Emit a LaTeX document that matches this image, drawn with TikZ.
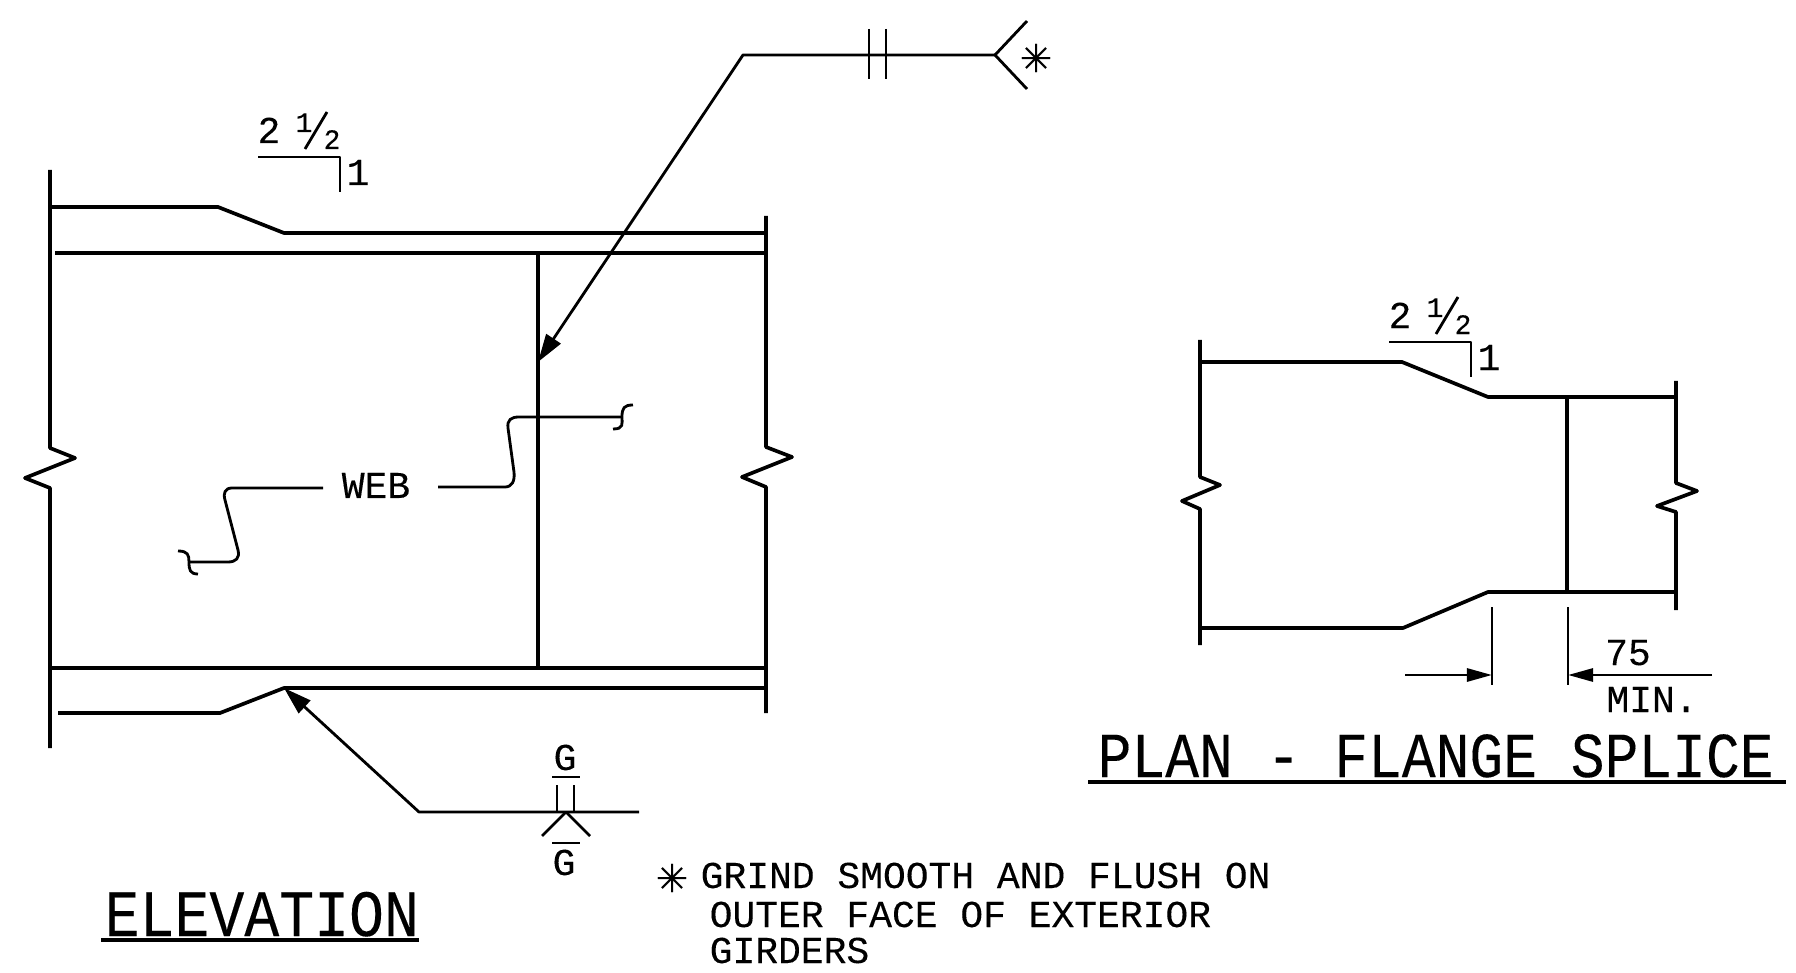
\documentclass[tikz,border=0pt]{standalone}
\usepackage{fontspec}
\newfontfamily\cadfont{Liberation Mono}[FakeBold=0.15]
\newfontfamily\cadtall{Liberation Mono}[FakeStretch=0.88,FakeBold=0.15]
\newfontfamily\starfont{DejaVu Sans}[FakeBold=0.3]
\usepackage{tikz}
\usetikzlibrary{arrows.meta}
\tikzset{
	heavyline/.style={line width=1.05pt,line join=round},
	thinline/.style={line width=0.8pt,line join=round},
	weldtip/.style={-{Triangle[length=0.28cm,width=0.17cm]}},
	dimtip/.style={-{Triangle[length=0.25cm,width=0.13cm]}},
	cadtext/.style={font=\cadfont\fontsize{10.8}{13}\selectfont,anchor=base,inner sep=0pt},
	smalltext/.style={font=\cadfont\fontsize{8}{10}\selectfont,anchor=base,inner sep=0pt},
	titletext/.style={font=\cadtall\fontsize{18.8}{22}\selectfont,anchor=base west,inner sep=0pt},
	startext/.style={font=\starfont\fontsize{11}{13}\selectfont,inner sep=0pt}
}
\begin{document}
\begin{tikzpicture}[x=0.01cm,y=-0.01cm]
	\useasboundingbox (0,0) rectangle (1796,973);
	
	% elevation: end lines with break marks
	\draw[heavyline] (50,170) -- (50,448) -- (75,458) -- (25,478) -- (50,488) -- (50,748);
	\draw[heavyline] (766,216) -- (766,447) -- (792,457) -- (742,477) -- (766,487) -- (766,713);
	
	% flanges and stiffener
	\draw[heavyline] (50,207) -- (218,207) -- (284,233) -- (766,233);
	\draw[heavyline] (55,253) -- (766,253);
	\draw[heavyline] (50,668) -- (766,668);
	\draw[heavyline] (58,713) -- (220,713) -- (284,688) -- (766,688);
	\draw[heavyline] (538,253) -- (538,668);
	
	% slope marks, same on both views
	\foreach \sx/\sy/\m in {0/0/a,1131/185/b} {
		\begin{scope}[shift={(\sx,\sy)}]
			\node[cadtext] (slopetwo\m) at (269,143) {2};
			\node[smalltext] (fracone\m) at (304,132) {1};
			\node[smalltext] (fractwo\m) at (332,149) {2};
			\node[cadtext] (slopeone\m) at (358,185) {1};
			\draw[thinline] (305,149) -- (327,112);
			\draw[thinline] (258,157) -- (340,157) -- (340,192);
		\end{scope}
	}
	
	% top weld symbol
	\coordinate (topweld) at (538,362);
	\coordinate (topelbow) at (743,55);
	\coordinate (toptail) at (995,55);
	\draw[thinline,weldtip] (toptail) -- (topelbow) -- (topweld);
	\draw[thinline] (869,29) -- (869,79);
	\draw[thinline] (886,29) -- (886,79);
	\draw[thinline] (1027,21) -- (toptail) -- (1027,89);
	\node[startext] (topstar) at (1036,58) {✳};
	
	% web label and its two leaders
	\node[cadtext] (web) at (376,498) {WEB};
	\coordinate (webleft) at (323,488);
	\coordinate (webright) at (438,487);
	\draw[thinline] (webright) -- (505,487) .. controls (512,487) and (515,481) .. (514,472)
		-- (508,428) .. controls (507,420) and (511,417) .. (519,417) -- (622,417);
	\draw[thinline] (613,429) .. controls (624,429) and (622,424) .. (622,417)
		.. controls (622,408) and (624,405) .. (633,405);
	\draw[thinline] (webleft) -- (232,488) .. controls (225,488) and (223,493) .. (225,500)
		-- (238,550) .. controls (240,558) and (236,562) .. (228,562) -- (189,562);
	\draw[thinline] (178,551) .. controls (188,551) and (189,555) .. (189,562)
		.. controls (189,570) and (190,574) .. (198,574);
	
	% bottom weld symbol
	\coordinate (botweld) at (284,688);
	\coordinate (botelbow) at (419,812);
	\coordinate (bottail) at (639,812);
	\coordinate (botapex) at (566,812);
	\draw[thinline,weldtip] (bottail) -- (botelbow) -- (botweld);
	\draw[thinline] (557,785) -- (557,812);
	\draw[thinline] (574,785) -- (574,812);
	\draw[thinline] (552,777) -- (580,777);
	\draw[thinline] (542,836) -- (botapex) -- (590,836);
	\draw[thinline] (552,843) -- (580,843);
	\node[cadtext] (gtop) at (565,770) {G};
	\node[cadtext] (gbot) at (564,875) {G};
	
	% titles
	\node[titletext] (elevation) at (104,936) {ELEVATION};
	\draw[heavyline] (101,940) -- (419,940);
	\node[titletext,font=\cadtall\fontsize{18.2}{22}\selectfont] (plantitle) at (1097,777) {PLAN - FLANGE SPLICE};
	\draw[heavyline] (1088,782) -- (1786,782);
	
	% note
	\node[startext] (notestar) at (672,878) {✳};
	\node[cadtext,anchor=base west] (noteone) at (700,888) {GRIND SMOOTH AND FLUSH ON};
	\node[cadtext,anchor=base west] (notetwo) at (709,927) {OUTER FACE OF EXTERIOR};
	\node[cadtext,anchor=base west] (notethree) at (709,963) {GIRDERS};
	
	% plan: outline with break marks
	\draw[heavyline] (1200,340) -- (1200,477) -- (1220,485) -- (1182,501) -- (1200,509) -- (1200,645);
	\draw[heavyline] (1676,381) -- (1676,483) -- (1697,491) -- (1657,506) -- (1676,512) -- (1676,610);
	\draw[heavyline] (1200,362) -- (1402,362) -- (1488,397) -- (1676,397);
	\draw[heavyline] (1200,628) -- (1403,628) -- (1488,592) -- (1676,592);
	\draw[heavyline] (1567,397) -- (1567,592);
	
	% dimension
	\draw[thinline] (1492,607) -- (1492,685);
	\draw[thinline] (1568,607) -- (1568,685);
	\coordinate (dimleft) at (1492,675);
	\coordinate (dimright) at (1568,675);
	\coordinate (tailleft) at (1405,675);
	\coordinate (tailright) at (1712,675);
	\draw[thinline,dimtip] (tailleft) -- (dimleft);
	\draw[thinline,dimtip] (tailright) -- (dimright);
	\node[cadtext] (dimval) at (1628,665) {75};
	\node[cadtext] (dimmin) at (1652,712) {MIN.};
\end{tikzpicture}
\end{document}
